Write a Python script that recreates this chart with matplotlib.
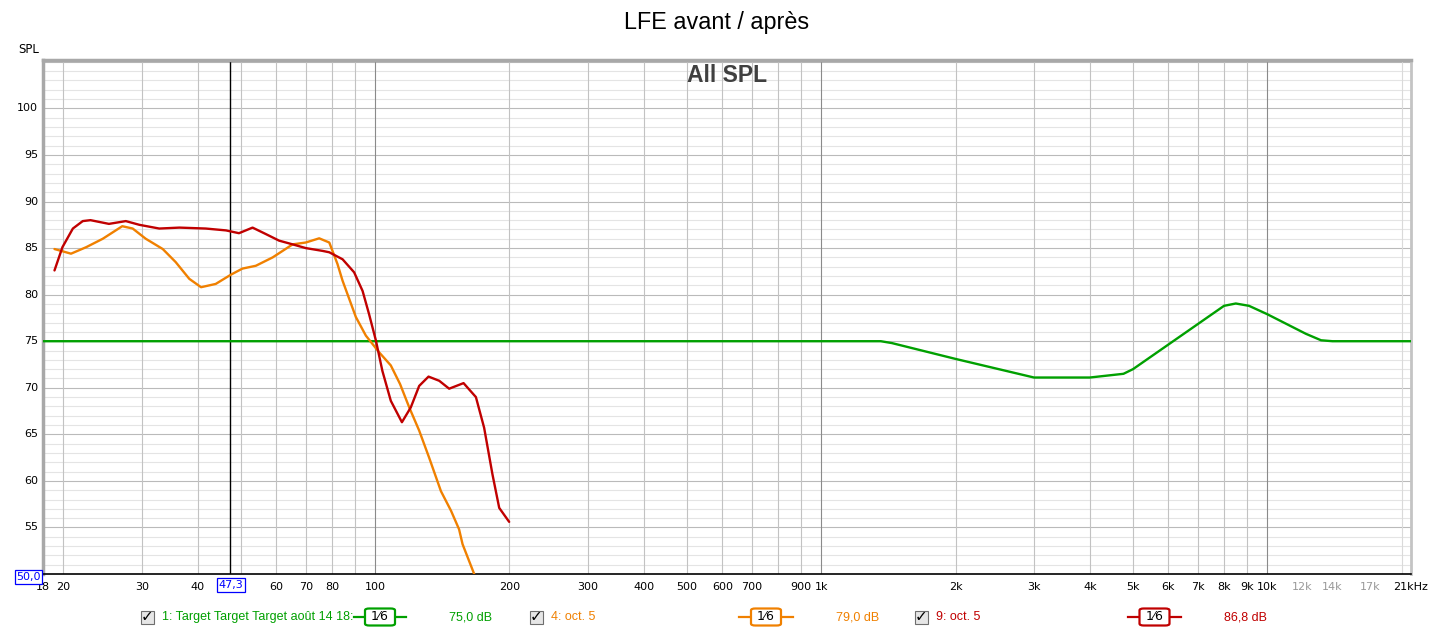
import matplotlib
matplotlib.use("Agg")
import matplotlib.pyplot as plt
from matplotlib.patches import Rectangle, FancyBboxPatch
from matplotlib.lines import Line2D
from matplotlib.ticker import NullLocator

# --- data ---
target_freq = [18, 1360, 1440, 2000, 3000, 4000, 4760, 5000, 8000, 8500,
               9100, 10000, 12200, 13200, 14000, 21000]
target_spl = [75.0, 75.0, 74.8, 73.1, 71.1, 71.1, 71.5, 72.0, 78.8, 79.05,
              78.8, 77.9, 75.8, 75.1, 75.0, 75.0]

before_freq = [19.1, 20.8, 22.5, 24.5, 27.1, 28.6, 30.6, 33.4, 35.7, 38.3,
               40.7, 43.9, 47.5, 50.4, 54.0, 58.9, 65.3, 69.9, 74.9, 78.9,
               82.3, 84.5, 90.5, 95.3, 102.1, 108.4, 113.7, 119.2, 125.5,
               132.1, 140.4, 147.9, 154.2, 157.0, 166.7, 172.0]
before_spl = [84.9, 84.4, 85.1, 86.0, 87.35, 87.1, 86.0, 84.9, 83.5, 81.7,
              80.8, 81.15, 82.15, 82.8, 83.1, 84.0, 85.4, 85.6, 86.05, 85.6,
              83.3, 81.5, 77.6, 75.6, 73.8, 72.4, 70.4, 67.9, 65.4,
              62.5, 58.9, 56.8, 54.8, 53.2, 50.0, 48.3]

after_freq = [19.1, 19.9, 21.0, 22.1, 23.0, 25.3, 27.6, 29.6, 32.8, 36.4,
              41.7, 46.3, 49.5, 53.1, 56.9, 60.9, 65.3, 69.9, 76.2, 78.9,
              84.5, 89.7, 93.7, 96.9, 100.4, 103.8, 108.4, 114.8, 120.2,
              125.5, 131.7, 139.2, 146.5, 157.8, 168.2, 175.5, 183.2, 189.7,
              199.7]
after_spl = [82.6, 85.1, 87.1, 87.9, 88.0, 87.6, 87.9, 87.5, 87.1, 87.2,
             87.1, 86.9, 86.6, 87.2, 86.5, 85.8, 85.4, 85.0, 84.7, 84.55,
             83.8, 82.4, 80.4, 77.9, 75.05, 71.8, 68.6, 66.3, 67.9,
             70.2, 71.2, 70.75, 69.9, 70.5, 69.0, 65.7, 60.7, 57.1, 55.6]

y_ticks = [55, 60, 65, 70, 75, 80, 85, 90, 95, 100]
x_ticks = [18, 20, 30, 40, 60, 70, 80, 100, 200, 300, 400, 500, 600, 700,
           900, 1000, 2000, 3000, 4000, 5000, 6000, 7000, 8000, 9000, 10000,
           12000, 14000, 17000, 21000]
x_labels = ["18", "20", "30", "40", "60", "70", "80", "100", "200", "300",
            "400", "500", "600", "700", "900", "1k", "2k", "3k", "4k", "5k",
            "6k", "7k", "8k", "9k", "10k", "12k", "14k", "17k", "21kHz"]
grey_labels = ["12k", "14k", "17k"]

cursor_freq = 47.3
legend_items = [
    ("1: Target Target Target août 14 18:", "75,0 dB"),
    ("4: oct. 5", "79,0 dB"),
    ("9: oct. 5", "86,8 dB"),
]

GREEN = "#00a000"
ORANGE = "#f08000"
RED = "#c00000"

W, H = 1433, 632


def fx(px):
    return px / W


def fy(py):
    return 1 - py / H


fig = plt.figure(figsize=(W / 100, H / 100), dpi=100)
ax = fig.add_axes([fx(43), fy(574), (1411 - 43) / W, (574 - 60) / H])
ax.set_xscale("log")
ax.set_xlim(18, 21000)
ax.set_ylim(50, 105.2)
for axis in (ax.xaxis, ax.yaxis):
    axis.set_major_locator(NullLocator())
    axis.set_minor_locator(NullLocator())

# grid
for v in range(51, 106):
    ax.axhline(v, color="#bababa" if v % 5 == 0 else "#e4e4e4",
               lw=0.8, zorder=0)
for decade in (10, 100, 1000, 10000):
    for m in range(1, 10):
        f = m * decade
        if f <= 18 or f >= 21000:
            continue
        if m == 1:
            c = "#8a8a8a"
        elif decade == 10000:
            c = "#dadada"
        else:
            c = "#c2c2c2"
        ax.axvline(f, color=c, lw=0.8, zorder=0)

ax.axvline(cursor_freq, color="black", lw=1, zorder=2)

curve_style = dict(lw=1.7, solid_joinstyle="round", solid_capstyle="round")
ax.plot(target_freq, target_spl, color=GREEN, zorder=3, **curve_style)
ax.plot(before_freq, before_spl, color=ORANGE, zorder=4, **curve_style)
ax.plot(after_freq, after_spl, color=RED, zorder=5, **curve_style)

for side in ("top", "left"):
    ax.spines[side].set_color("#a8a8a8")
    ax.spines[side].set_linewidth(2.5)
ax.spines["right"].set_color("#c4c4c4")
ax.spines["right"].set_linewidth(2)
ax.spines["bottom"].set_color("black")
ax.spines["bottom"].set_linewidth(1.2)

# tick labels
for v in y_ticks:
    ax.text(-0.0035, v, str(v), transform=ax.get_yaxis_transform(),
            ha="right", va="center", fontsize=8, family="DejaVu Sans")
for f, lab in zip(x_ticks, x_labels):
    ax.text(f, -0.025, lab, transform=ax.get_xaxis_transform(),
            ha="center", va="center", fontsize=8, family="DejaVu Sans",
            color="#999999" if lab in grey_labels else "black")

fig.text(fx(39), fy(49.5), "SPL", ha="right", va="center", fontsize=8.5,
         family="DejaVu Sans")
fig.text(fx(716.7), fy(23), "LFE avant / après", ha="center", va="center",
         fontsize=16.8, family="Liberation Sans")
fig.text(fx(727), fy(76), "All SPL", ha="center", va="center",
         fontsize=16.5, fontweight="bold", color="#404040",
         family="Liberation Sans")

box = dict(boxstyle="square,pad=0.15", fc="white", ec="blue", lw=0.9)
fig.text(fx(28.5), fy(577), "50,0", ha="center", va="center", fontsize=8,
         color="blue", family="DejaVu Sans", bbox=box)
fig.text(fx(231), fy(585), "47,3", ha="center", va="center", fontsize=8,
         color="blue", family="DejaVu Sans", bbox=box)

# legend row under the plot
ly = 617
colors = [GREEN, ORANGE, RED]
check_x = [140.5, 530, 915]
line_x = [(354, 406), (739, 793), (1128, 1181)]
value_x = [449, 835.5, 1223.7]
for (name, value), c, cx, (l0, l1), vx in zip(legend_items, colors, check_x,
                                             line_x, value_x):
    fig.patches.append(Rectangle((fx(cx), fy(ly + 6.5)), 13 / W, 13 / H,
                                 transform=fig.transFigure, fc="#e6e6e6",
                                 ec="#6e6e6e", lw=0.8, zorder=1))
    fig.text(fx(cx + 6.5), fy(ly - 0.5), "✓", ha="center", va="center",
             fontsize=11, fontweight="bold", family="DejaVu Sans", zorder=3)
    fig.text(fx(cx + 21), fy(ly), name, ha="left", va="center",
             fontsize=9, color=c, family="Liberation Sans")
    fig.lines.append(Line2D([fx(l0), fx(l1)], [fy(ly), fy(ly)],
                            transform=fig.transFigure, color=c, lw=1.6,
                            zorder=1))
    mid = (l0 + l1) / 2
    fig.patches.append(FancyBboxPatch((fx(mid - 15), fy(ly + 8.5)), 30 / W,
                                      17 / H,
                                      boxstyle="round,pad=0,rounding_size=0.003",
                                      transform=fig.transFigure, fc="white",
                                      ec=c, lw=1.6, zorder=2))
    fig.text(fx(mid), fy(ly), "1⁄6", ha="center", va="center", fontsize=9,
             family="DejaVu Sans", zorder=3)
    fig.text(fx(vx), fy(ly), value, ha="left", va="center", fontsize=9,
             color=c, family="Liberation Sans")

fig.savefig("out.png", dpi=100)
